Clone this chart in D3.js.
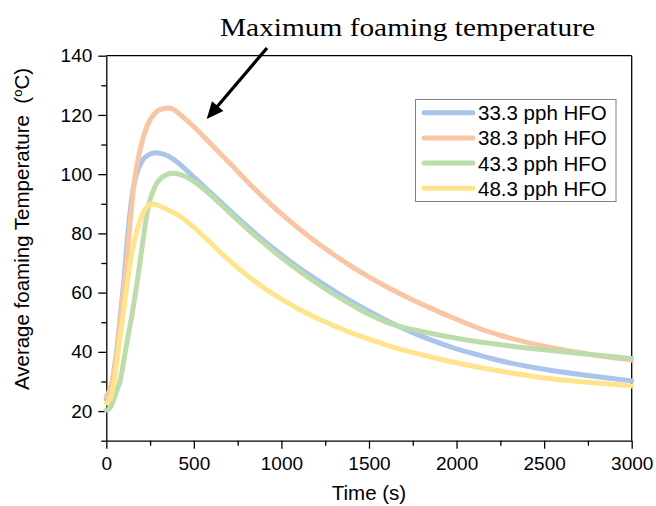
<!DOCTYPE html>
<html>
<head>
<meta charset="utf-8">
<script src="https://cdn.jsdelivr.net/npm/d3@7"></script>
<style>
  html, body { margin: 0; padding: 0; background: #fff; }
  svg { display: block; }
  text { font-family: "Liberation Sans", Arial, sans-serif; fill: #000; }
</style>
</head>
<body>
<svg id="chart" width="656" height="506"></svg>
<script>
// Foam temperature profiles for four HFO blowing-agent loadings
const seriesNames = ["33.3 pph HFO", "38.3 pph HFO", "43.3 pph HFO", "48.3 pph HFO"];
const seriesColors = ["#a9c5ec", "#f8c5a5", "#bcdcab", "#fee48c"];

const time333 = [0, 25, 50, 75, 100, 125, 150, 175, 200, 240, 285, 300, 350, 400, 500, 600, 700, 800, 900, 1000, 1100, 1200, 1300, 1400, 1500, 1600, 1750, 1900, 2000, 2134, 2250, 2500, 2750, 3000];
const temp333 = [24, 27, 36, 49, 64, 81, 94, 100.5, 104, 106.5, 107.2, 107.1, 106.2, 104.3, 99, 93.5, 88, 82.6, 77.5, 72.8, 68.4, 64.4, 60.6, 57, 53.7, 50.6, 46.5, 43, 41, 38.8, 37, 34.1, 32, 30.2];

const time383 = [0, 30, 60, 90, 116, 135, 154, 175, 200, 225, 250, 275, 300, 330, 355, 390, 420, 500, 600, 700, 800, 900, 1000, 1100, 1200, 1300, 1400, 1500, 1600, 1750, 1900, 2000, 2134, 2250, 2500, 2750, 3000];
const temp383 = [25, 29, 40, 56, 70, 83, 94.7, 103, 110, 115, 118.3, 120.4, 121.6, 122.2, 122.3, 121.6, 120.2, 116, 110, 104, 97.8, 92, 86.6, 81.6, 77, 72.8, 68.9, 65.3, 62, 57.5, 53.5, 51, 47.8, 45.6, 41.9, 39.3, 37.2];

const time433 = [0, 20, 40, 60, 78, 100, 120, 145, 175, 202, 225, 250, 280, 320, 380, 450, 550, 650, 750, 850, 950, 1050, 1150, 1250, 1350, 1450, 1550, 1620, 1700, 1800, 1900, 2000, 2134, 2250, 2500, 2750, 3000];
const temp433 = [20.3, 21, 23.5, 27, 30, 37, 44, 52, 63, 74.4, 84, 91.3, 96, 99, 100.3, 99.3, 95.3, 90, 84.5, 79.2, 74.2, 69.6, 65.3, 61.3, 57.6, 54.2, 51.3, 49.6, 48.2, 46.9, 45.7, 44.6, 43.3, 42.4, 40.7, 39.2, 37.8];

const time483 = [0, 20, 45, 69, 95, 120, 145, 173, 200, 230, 265, 300, 350, 400, 450, 500, 600, 700, 800, 900, 1000, 1100, 1200, 1300, 1400, 1500, 1600, 1750, 1900, 2000, 2134, 2250, 2500, 2750, 3000];
const temp483 = [22.7, 24, 30, 40.6, 52, 63.2, 73, 80.5, 85.5, 88.8, 89.9, 89.4, 88, 86.5, 84.5, 82, 76.5, 71, 66, 61.6, 57.8, 54.4, 51.4, 48.8, 46.4, 44.3, 42.3, 39.8, 37.6, 36.3, 34.7, 33.5, 31.2, 29.7, 28.5];

const xMajorTicks = [0, 500, 1000, 1500, 2000, 2500, 3000];
const xMinorTicks = [250, 750, 1250, 1750, 2250, 2750];
const yMajorTicks = [20, 40, 60, 80, 100, 120, 140];
const yMinorTicks = [10, 30, 50, 70, 90, 110, 130];

const titleText = "Maximum foaming temperature";
const xTitle = "Time (s)";

const seriesTimes = [time333, time383, time433, time483];
const seriesTemps = [temp333, temp383, temp433, temp483];

const svg = d3.select("#chart");
const plot = { left: 106.3, right: 631.7, top: 55.7, bottom: 440.7 };

const x = d3.scaleLinear().domain([0, 3000]).range([plot.left, plot.right]);
const y = d3.scaleLinear().domain([10, 140]).range([plot.bottom, plot.top]);

// Axes: major ticks with labels, minor ticks without
const axisStyle = g => {
  g.selectAll("line").attr("stroke", "#000").attr("stroke-width", 1.3);
  g.selectAll("path").attr("stroke", "#000").attr("stroke-width", 1.3);
};

svg.append("g")
  .attr("transform", `translate(0,${plot.bottom})`)
  .call(d3.axisBottom(x).tickValues(xMinorTicks).tickSize(5).tickSizeOuter(0).tickFormat(""))
  .call(g => g.select(".domain").remove())
  .call(axisStyle);
svg.append("g")
  .attr("transform", `translate(${plot.left},0)`)
  .call(d3.axisLeft(y).tickValues(yMinorTicks).tickSize(5).tickSizeOuter(0).tickFormat(""))
  .call(g => g.select(".domain").remove())
  .call(axisStyle);

const xAxis = svg.append("g")
  .attr("transform", `translate(0,${plot.bottom})`)
  .call(d3.axisBottom(x).tickValues(xMajorTicks).tickSize(8).tickSizeOuter(0).tickPadding(8).tickFormat(d3.format("d")))
  .call(axisStyle);
xAxis.selectAll("text")
  .style("font-family", '"Liberation Sans", Arial, sans-serif')
  .style("font-size", "19px").attr("fill", "#000");

const yAxis = svg.append("g")
  .attr("transform", `translate(${plot.left},0)`)
  .call(d3.axisLeft(y).tickValues(yMajorTicks).tickSize(8).tickSizeOuter(0).tickPadding(6).tickFormat(d3.format("d")))
  .call(axisStyle);
yAxis.selectAll("text")
  .style("font-family", '"Liberation Sans", Arial, sans-serif')
  .style("font-size", "19px").attr("fill", "#000");

// Frame: top and right edges
svg.append("line")
  .attr("x1", plot.left).attr("x2", plot.right)
  .attr("y1", plot.top).attr("y2", plot.top)
  .attr("stroke", "#000").attr("stroke-width", 1.3);
svg.append("line")
  .attr("x1", plot.right).attr("x2", plot.right)
  .attr("y1", plot.top).attr("y2", plot.bottom)
  .attr("stroke", "#000").attr("stroke-width", 1.3);

// Temperature curves
const line = d3.line()
  .x(d => x(d[0]))
  .y(d => y(d[1]))
  .curve(d3.curveMonotoneX);

seriesNames.forEach((name, i) => {
  const pts = seriesTimes[i].map((t, j) => [t, seriesTemps[i][j]]);
  svg.append("path")
    .datum(pts)
    .attr("d", line)
    .attr("fill", "none")
    .attr("stroke", seriesColors[i])
    .attr("stroke-width", 5)
    .attr("stroke-linejoin", "round")
    .attr("stroke-linecap", "round");
});

// Legend
const legend = svg.append("g");
legend.append("rect")
  .attr("x", 415.5).attr("y", 99.5)
  .attr("width", 200.5).attr("height", 102)
  .attr("fill", "#fff")
  .attr("stroke", "#808080").attr("stroke-width", 1);
seriesNames.forEach((name, i) => {
  const ly = 112.7 + i * 25.2;
  legend.append("line")
    .attr("x1", 424).attr("x2", 473)
    .attr("y1", ly).attr("y2", ly)
    .attr("stroke", seriesColors[i])
    .attr("stroke-width", 5)
    .attr("stroke-linecap", "round");
  legend.append("text")
    .attr("x", 478).attr("y", ly + 7.5)
    .style("font-size", "20.5px")
    .text(name);
});

// Axis titles
svg.append("text")
  .attr("x", (plot.left + plot.right) / 2)
  .attr("y", 500)
  .attr("text-anchor", "middle")
  .style("font-size", "20.5px")
  .text(xTitle);

const yTitle = svg.append("text")
  .attr("transform", "translate(28.5,229) rotate(-90)")
  .attr("text-anchor", "middle")
  .style("font-size", "20.5px");
yTitle.append("tspan").text("Average foaming Temperature\u00a0\u00a0(");
yTitle.append("tspan").attr("dy", -7).style("font-size", "13px").text("o");
yTitle.append("tspan").attr("dy", 7).text("C)");

// Annotation
svg.append("text")
  .attr("x", 220).attr("y", 35.7)
  .attr("textLength", 375)
  .attr("lengthAdjust", "spacingAndGlyphs")
  .style("font-family", '"Liberation Serif", "Times New Roman", serif')
  .style("font-size", "25px")
  .text(titleText);

const a0 = [267, 48], a1 = [206.7, 119];
const dx = a1[0] - a0[0], dy = a1[1] - a0[1];
const len = Math.hypot(dx, dy);
const ux = dx / len, uy = dy / len;
const headLen = 17, headHalf = 7.5;
const bx = a1[0] - ux * headLen, by = a1[1] - uy * headLen;
svg.append("line")
  .attr("x1", a0[0]).attr("y1", a0[1])
  .attr("x2", bx + ux * 2).attr("y2", by + uy * 2)
  .attr("stroke", "#000").attr("stroke-width", 3.2);
svg.append("path")
  .attr("d", `M${a1[0]},${a1[1]} L${bx - uy * headHalf},${by + ux * headHalf} L${bx + uy * headHalf},${by - ux * headHalf} Z`)
  .attr("fill", "#000");
</script>
</body>
</html>
